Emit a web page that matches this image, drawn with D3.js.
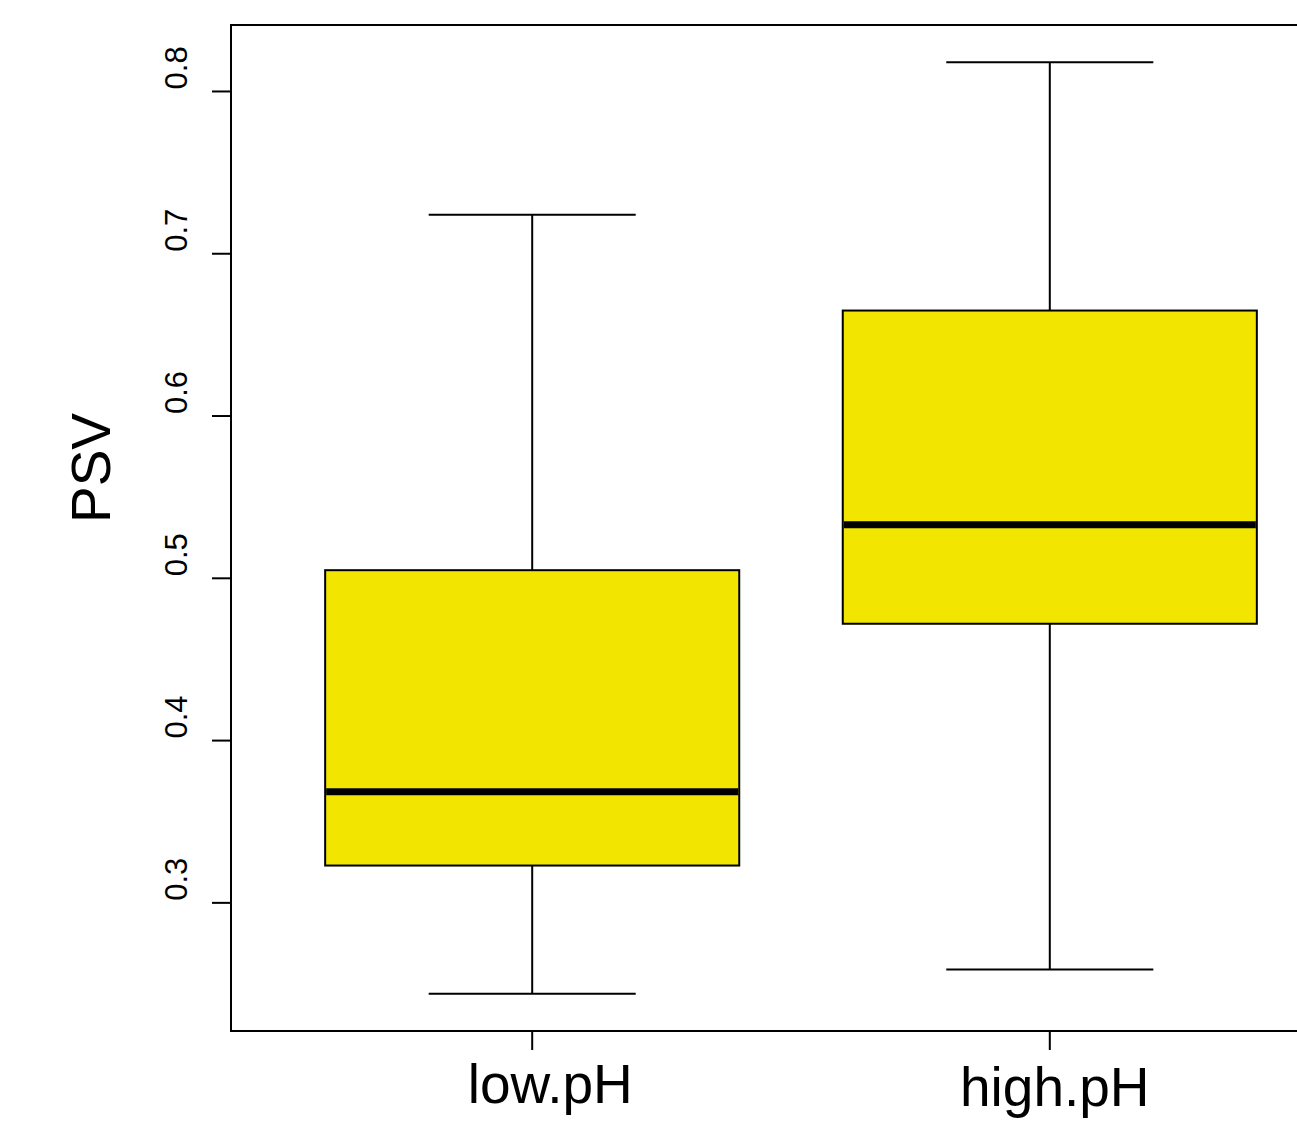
<!DOCTYPE html>
<html lang="en">
<head>
    <meta charset="UTF-8">
    <title>PSV boxplot</title>
    <script src="https://d3js.org/d3.v7.min.js"></script>
    <style>
        body {
            margin: 0;
            padding: 0;
            background: white;
            font-family: "Liberation Sans", Arial, sans-serif;
        }
        .tick-label { font-size: 31px; fill: #000; }
        .cat-label { font-size: 55px; fill: #000; text-anchor: middle; }
        .axis-title { font-size: 55px; fill: #000; text-anchor: middle; }
    </style>
</head>
<body>
    <script>
        const width = 1297, height = 1122;

        // data
        const groups = ["low.pH", "high.pH"];
        const whiskerLow = [0.244, 0.259];
        const q1 = [0.323, 0.472];
        const medians = [0.3685, 0.533];
        const q3 = [0.505, 0.665];
        const whiskerHigh = [0.724, 0.818];
        const yTicks = [0.3, 0.4, 0.5, 0.6, 0.7, 0.8];

        const boxes = groups.map((g, i) => ({
            name: g, pos: i + 1,
            lo: whiskerLow[i], q1: q1[i], med: medians[i], q3: q3[i], hi: whiskerHigh[i]
        }));

        const plot = { left: 231, right: 1350, top: 25, bottom: 1031 };

        const svg = d3.select("body").append("svg")
            .attr("width", width)
            .attr("height", height);

        // R style 4% axis extension
        const x = d3.scaleLinear().domain([0.42, 2.58]).range([plot.left + 1, plot.right]);
        const yMin = d3.min(whiskerLow), yMax = d3.max(whiskerHigh);
        const pad = (yMax - yMin) * 0.04;
        const y = d3.scaleLinear().domain([yMin - pad, yMax + pad]).range([plot.bottom, plot.top]);

        const boxHalf = 0.4, capHalf = 0.2;

        const g = svg.append("g");

        // whiskers
        boxes.forEach(d => {
            g.append("line")
                .attr("x1", x(d.pos)).attr("x2", x(d.pos))
                .attr("y1", y(d.q3)).attr("y2", y(d.hi))
                .attr("stroke", "#000").attr("stroke-width", 2);
            g.append("line")
                .attr("x1", x(d.pos)).attr("x2", x(d.pos))
                .attr("y1", y(d.q1)).attr("y2", y(d.lo))
                .attr("stroke", "#000").attr("stroke-width", 2);
            [d.lo, d.hi].forEach(v => {
                g.append("line")
                    .attr("x1", x(d.pos - capHalf)).attr("x2", x(d.pos + capHalf))
                    .attr("y1", y(v)).attr("y2", y(v))
                    .attr("stroke", "#000").attr("stroke-width", 2);
            });
        });

        // boxes
        g.selectAll(".box")
            .data(boxes)
            .enter()
            .append("rect")
            .attr("class", "box")
            .attr("x", d => x(d.pos - boxHalf))
            .attr("width", d => x(d.pos + boxHalf) - x(d.pos - boxHalf))
            .attr("y", d => y(d.q3))
            .attr("height", d => y(d.q1) - y(d.q3))
            .attr("fill", "#F2E600")
            .attr("stroke", "#000")
            .attr("stroke-width", 2);

        // medians
        g.selectAll(".median")
            .data(boxes)
            .enter()
            .append("line")
            .attr("x1", d => x(d.pos - boxHalf) + 1)
            .attr("x2", d => x(d.pos + boxHalf) - 1)
            .attr("y1", d => y(d.med))
            .attr("y2", d => y(d.med))
            .attr("stroke", "#000")
            .attr("stroke-width", 7);

        // frame
        svg.append("rect")
            .attr("x", plot.left).attr("y", plot.top)
            .attr("width", plot.right - plot.left)
            .attr("height", plot.bottom - plot.top)
            .attr("fill", "none")
            .attr("stroke", "#000")
            .attr("stroke-width", 2);

        // y axis ticks
        const tickLen = 19;
        yTicks.forEach(t => {
            svg.append("line")
                .attr("x1", plot.left - tickLen).attr("x2", plot.left)
                .attr("y1", y(t)).attr("y2", y(t))
                .attr("stroke", "#000").attr("stroke-width", 2);
            svg.append("text")
                .attr("class", "tick-label")
                .attr("transform", `translate(187,${y(t) - 2}) rotate(-90)`)
                .attr("text-anchor", "start")
                .text(d3.format(".1f")(t));
        });

        // x axis ticks and labels (the original labels sit a little right of their ticks)
        const labelShift = [[18, 0], [5, 3]];
        boxes.forEach((d, i) => {
            svg.append("line")
                .attr("x1", x(d.pos)).attr("x2", x(d.pos))
                .attr("y1", plot.bottom).attr("y2", plot.bottom + tickLen)
                .attr("stroke", "#000").attr("stroke-width", 2);
            svg.append("text")
                .attr("class", "cat-label")
                .attr("x", x(d.pos) + labelShift[i][0])
                .attr("y", 1103 + labelShift[i][1])
                .text(d.name);
        });

        // y axis title
        svg.append("text")
            .attr("class", "axis-title")
            .attr("transform", `translate(110,${(413 + 523) / 2}) rotate(-90)`)
            .text("PSV");
    </script>
</body>
</html>
